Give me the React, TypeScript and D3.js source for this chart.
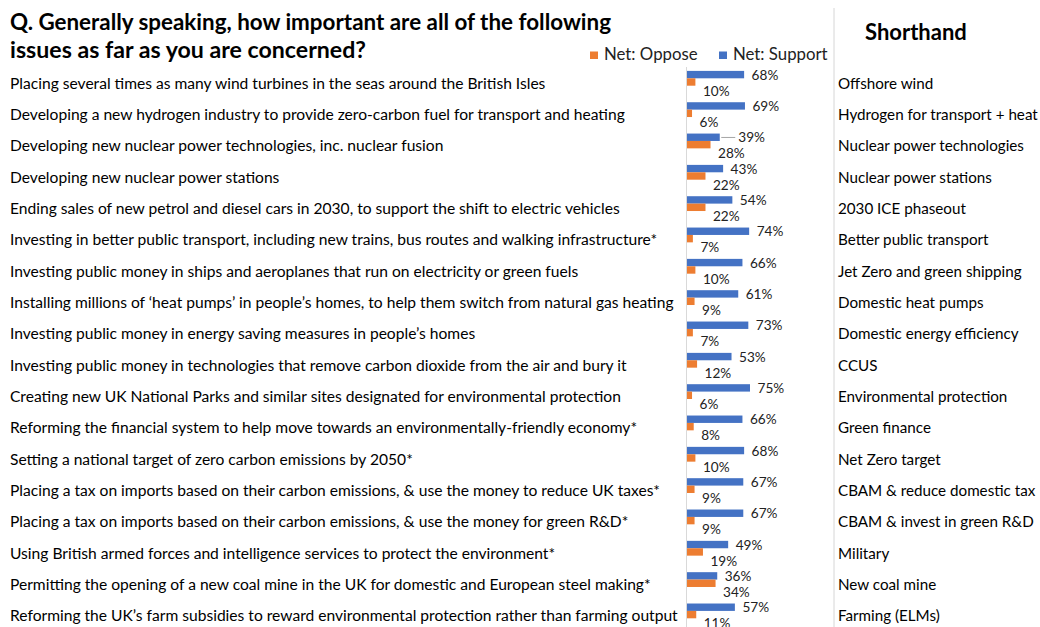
import React from "react";
import * as d3 from "d3";

const categories: string[] = [
  "Placing several times as many wind turbines in the seas around the British Isles",
  "Developing a new hydrogen industry to provide zero-carbon fuel for transport and heating",
  "Developing new nuclear power technologies, inc. nuclear fusion",
  "Developing new nuclear power stations",
  "Ending sales of new petrol and diesel cars in 2030, to support the shift to electric vehicles",
  "Investing in better public transport, including new trains, bus routes and walking infrastructure*",
  "Investing public money in ships and aeroplanes that run on electricity or green fuels",
  "Installing millions of \u2018heat pumps\u2019 in people\u2019s homes, to help them switch from natural gas heating",
  "Investing public money in energy saving measures in people\u2019s homes",
  "Investing public money in technologies that remove carbon dioxide from the air and bury it",
  "Creating new UK National Parks and similar sites designated for environmental protection",
  "Reforming the financial system to help move towards an environmentally-friendly economy*",
  "Setting a national target of zero carbon emissions by 2050*",
  "Placing a tax on imports based on their carbon emissions, & use the money to reduce UK taxes*",
  "Placing a tax on imports based on their carbon emissions, & use the money for green R&D*",
  "Using British armed forces and intelligence services to protect the environment*",
  "Permitting the opening of a new coal mine in the UK for domestic and European steel making*",
  "Reforming the UK\u2019s farm subsidies to reward environmental protection rather than farming output",
];

const shorthand: string[] = [
  "Offshore wind",
  "Hydrogen for transport + heat",
  "Nuclear power technologies",
  "Nuclear power stations",
  "2030 ICE phaseout",
  "Better public transport",
  "Jet Zero and green shipping",
  "Domestic heat pumps",
  "Domestic energy efficiency",
  "CCUS",
  "Environmental protection",
  "Green finance",
  "Net Zero target",
  "CBAM & reduce domestic tax",
  "CBAM & invest in green R&D",
  "Military",
  "New coal mine",
  "Farming (ELMs)",
];

const netSupport: number[] = [68, 69, 39, 43, 54, 74, 66, 61, 73, 53, 75, 66, 68, 67, 67, 49, 36, 57];
const netOppose: number[] = [10, 6, 28, 22, 22, 7, 10, 9, 7, 12, 6, 8, 10, 9, 9, 19, 34, 11];

const titleLines: string[] = [
  "Q. Generally speaking, how important are all of the following",
  "issues as far as you are concerned?",
];
const legendItems: string[] = ["Net: Oppose", "Net: Support"];
const shorthandTitle = "Shorthand";

// label that was dragged away from its bar (with a leader line) in the original
const LEADER_ROW = 2;
const LEADER_SHIFT = 11;

const W = 1040;
const H = 627;
const BLUE = "#4472C4";
const ORANGE = "#ED7D31";
const FONT = "Lato, 'Open Sans', sans-serif";

export default function App() {
  const x = d3.scaleLinear().domain([0, 100]).range([686.5, 770.5]);
  const step = 31.33;
  const y = d3
    .scaleBand<number>()
    .domain(d3.range(categories.length))
    .range([78.3 - step / 2, 78.3 + (categories.length - 0.5) * step])
    .padding(0);
  const barH = 7.4;
  const center = (i: number) => (y(i) as number) + y.bandwidth() / 2;

  return (
    <svg
      width={W}
      height={H}
      style={{ position: "absolute", left: 0, top: 0, background: "#fff" }}
      fontFamily={FONT}
    >
      <rect x={0} y={0} width={W} height={H} fill="#fff" />
      {titleLines.map((t, i) => (
        <text
          key={t}
          x={10}
          y={30 + i * 28}
          fontSize={22}
          fontWeight={700}
          fill="#000"
          textLength={i === 0 ? 601 : 356}
          lengthAdjust="spacingAndGlyphs"
        >
          {t}
        </text>
      ))}
      {/* legend */}
      {legendItems.map((t, i) => (
        <g key={t} transform={`translate(${590 + i * 129},0)`}>
          <rect x={0} y={51.5} width={8} height={7.5} fill={i === 0 ? ORANGE : BLUE} />
          <text x={14} y={59.5} fontSize={16.8} fill="#222">
            {t}
          </text>
        </g>
      ))}
      {/* separator */}
      <line x1={834} x2={834} y1={8} y2={H} stroke="#d6d6d6" strokeWidth={1} />
      <text x={865} y={40} fontSize={22} fontWeight={700} fill="#000">
        {shorthandTitle}
      </text>
      {/* axis line */}
      <line x1={x(0)} x2={x(0)} y1={67} y2={H} stroke="#d9d9d9" strokeWidth={1} />
      {categories.map((c, i) => {
        const cy = center(i);
        const s = netSupport[i];
        const o = netOppose[i];
        const shift = i === LEADER_ROW ? LEADER_SHIFT : 0;
        return (
          <g key={c}>
            <text x={10} y={cy + 5} dy="0.35em" fontSize={15.6} fill="#000">
              {c}
            </text>
            <text x={838} y={cy + 5} dy="0.35em" fontSize={15.2} fill="#000">
              {shorthand[i]}
            </text>
            <rect x={x(0) + 0.5} y={cy - barH} width={x(s) - x(0)} height={barH} fill={BLUE} />
            <rect x={x(0) + 0.5} y={cy} width={x(o) - x(0)} height={barH} fill={ORANGE} />
            {shift > 0 && (
              <line
                x1={x(s) + 2}
                x2={x(s) + shift + 5}
                y1={cy - 3.5}
                y2={cy - 3.5}
                stroke="#a6a6a6"
                strokeWidth={1}
              />
            )}
            <text x={x(s) + 8 + shift} y={cy - 3.5} dy="0.35em" fontSize={13.6} fill="#222">
              {`${s}%`}
            </text>
            <text x={x(o) + 8} y={cy + 12.5} dy="0.35em" fontSize={13.6} fill="#222">
              {`${o}%`}
            </text>
          </g>
        );
      })}
    </svg>
  );
}
